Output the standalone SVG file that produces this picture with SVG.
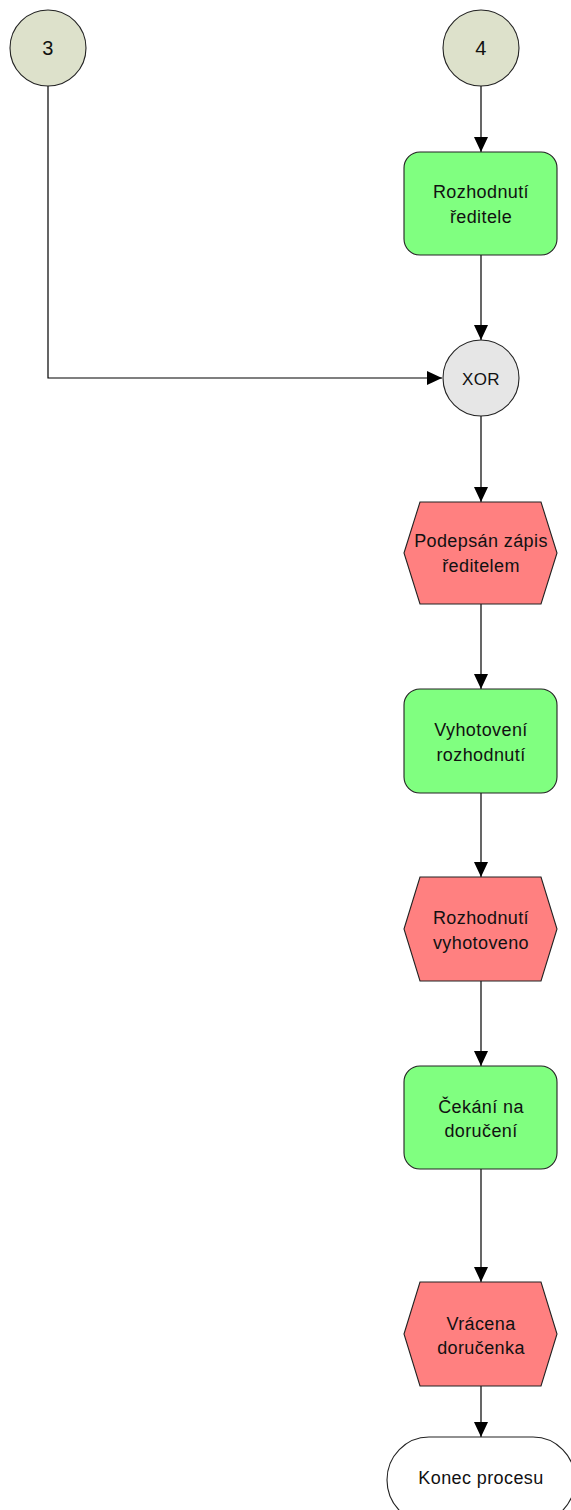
<svg xmlns="http://www.w3.org/2000/svg" width="571" height="1510" viewBox="0 0 571 1510">
  <style>
    .lbl { font-family: "Liberation Sans", Arial, sans-serif; font-size: 18px; fill: #111; text-anchor: middle; letter-spacing: 0.4px; }
    .num { font-size: 20px; }
    .conn { fill: none; stroke: #000; stroke-width: 1.2; marker-end: url(#arrow); }
    .connector { fill: #dde1cb; stroke: #222; stroke-width: 1.1; }
    .func { fill: #80ff80; stroke: #222; stroke-width: 1.1; }
    .event { fill: #ff8080; stroke: #222; stroke-width: 1.1; }
    .gate { fill: #e6e6e6; stroke: #222; stroke-width: 1.1; }
    .term { fill: #ffffff; stroke: #222; stroke-width: 1.1; }
  </style>
  <defs>
    <marker id="arrow" markerUnits="userSpaceOnUse" markerWidth="15" markerHeight="14" refX="15" refY="7" orient="auto">
      <path d="M0,0 L15,7 L0,14 Z" fill="#000"/>
    </marker>
  </defs>
  <rect width="571" height="1510" fill="#ffffff"/>

  <!-- connectors -->
  <g id="connectors">
    <path class="conn" d="M481,86 V152"/>
    <path class="conn" d="M481,255 V340"/>
    <path class="conn" d="M48,86 V378 H442"/>
    <path class="conn" d="M481,416 V502"/>
    <path class="conn" d="M481,604 V689"/>
    <path class="conn" d="M481,793 V877"/>
    <path class="conn" d="M481,981 V1066"/>
    <path class="conn" d="M481,1169 V1282"/>
    <path class="conn" d="M481,1386 V1437"/>
  </g>

  <!-- off-page connectors -->
  <g id="conn3">
    <circle class="connector" cx="48" cy="48" r="38"/>
    <text class="lbl num" x="48" y="55">3</text>
  </g>
  <g id="conn4">
    <circle class="connector" cx="481" cy="48" r="38"/>
    <text class="lbl num" x="481" y="55">4</text>
  </g>

  <!-- functions and events -->
  <g id="rozhodnuti-reditele">
    <rect class="func" x="404" y="152" width="153" height="103" rx="16" ry="16"/>
    <text class="lbl" x="481" y="198">Rozhodnutí</text>
    <text class="lbl" x="481" y="223">ředitele</text>
  </g>
  <g id="xor">
    <circle class="gate" cx="481" cy="378" r="38"/>
    <text class="lbl" x="481" y="384.5" style="font-size:17px">XOR</text>
  </g>
  <g id="podepsan-zapis">
    <polygon class="event" points="404,553 420,502 541,502 557,553 541,604 420,604"/>
    <text class="lbl" x="481" y="547">Podepsán zápis</text>
    <text class="lbl" x="481" y="572">ředitelem</text>
  </g>
  <g id="vyhotoveni-rozhodnuti">
    <rect class="func" x="404" y="689" width="153" height="104" rx="16" ry="16"/>
    <text class="lbl" x="481" y="736">Vyhotovení</text>
    <text class="lbl" x="481" y="761">rozhodnutí</text>
  </g>
  <g id="rozhodnuti-vyhotoveno">
    <polygon class="event" points="404,929 420,877 541,877 557,929 541,981 420,981"/>
    <text class="lbl" x="481" y="924">Rozhodnutí</text>
    <text class="lbl" x="481" y="949">vyhotoveno</text>
  </g>
  <g id="cekani-na-doruceni">
    <rect class="func" x="404" y="1066" width="153" height="103" rx="16" ry="16"/>
    <text class="lbl" x="481" y="1112.5">Čekání na</text>
    <text class="lbl" x="481" y="1137">doručení</text>
  </g>
  <g id="vracena-dorucenka">
    <polygon class="event" points="404,1334 420,1282 541,1282 557,1334 541,1386 420,1386"/>
    <text class="lbl" x="481" y="1329.5">Vrácena</text>
    <text class="lbl" x="481" y="1354">doručenka</text>
  </g>
  <g id="konec-procesu">
    <rect class="term" x="387" y="1437" width="188" height="86" rx="42" ry="43"/>
    <text class="lbl" x="481" y="1484">Konec procesu</text>
  </g>
</svg>
